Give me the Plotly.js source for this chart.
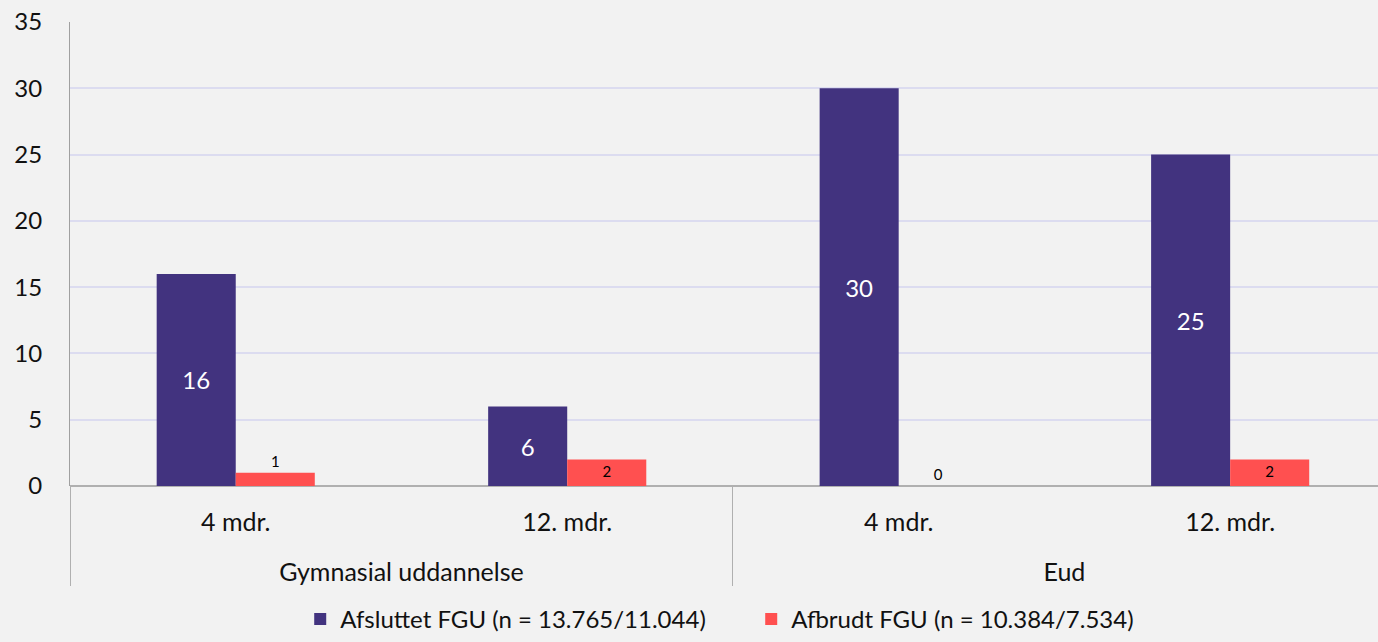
<!DOCTYPE html>
<html>
<head>
<meta charset="utf-8">
<script src="https://cdn.plot.ly/plotly-3.0.1.min.js"></script>
<style>html,body{margin:0;padding:0;background:#f2f2f2;}#chart{width:1378px;height:642px;}</style>
</head>
<body>
<div id="chart"></div>
<script>
const groups = ["Gymnasial uddannelse", "Gymnasial uddannelse", "Eud", "Eud"];
const periods = ["4 mdr.", "12. mdr.", "4 mdr.", "12. mdr."];
const afsluttet = [16, 6, 30, 25];
const afbrudt = [1, 2, 0, 2];
const seriesNames = ["Afsluttet FGU (n = 13.765/11.044)", "Afbrudt FGU (n = 10.384/7.534)"];

const font = "Lato, 'Noto Sans', sans-serif";

// display aliases: add an empty second line under each period label to space the two label rows
const aliases = {};
periods.forEach(p => { aliases[p] = p + '<br><span style="font-size:44px">\u00a0</span>'; });

const traces = [
  {
    type: 'bar', name: seriesNames[0], x: [groups, periods], y: afsluttet,
    marker: {color: '#42337f'},
    text: afsluttet.map(String), textposition: 'inside', insidetextanchor: 'middle',
    textfont: {color: '#ffffff', size: 24, family: font}, hoverinfo: 'y'
  },
  {
    type: 'bar', name: seriesNames[1], x: [groups, periods], y: afbrudt,
    marker: {color: '#ff5050'},
    text: afbrudt.map(String), textposition: ['outside', 'inside', 'outside', 'inside'],
    insidetextanchor: 'end', cliponaxis: false,
    textfont: {color: '#000000', size: 15, family: font}, hoverinfo: 'y'
  }
];

const layout = {
  width: 1378, height: 642,
  paper_bgcolor: '#f2f2f2', plot_bgcolor: '#f2f2f2',
  font: {family: font, size: 24, color: '#111111'},
  margin: {l: 70, r: 0, t: 22, b: 156},
  barmode: 'group', bargap: 0.523, bargroupgap: 0,
  showlegend: true,
  legend: {orientation: 'h', x: 0.176, xanchor: 'left', yref: 'container', y: 0, yanchor: 'bottom',
           entrywidth: 406, entrywidthmode: 'pixels',
           font: {size: 24, family: font, color: '#111111'}, itemwidth: 30, traceorder: 'normal'},
  xaxis: {
    type: 'multicategory', range: [-0.5, 3.446],
    showgrid: false, showline: false, ticks: '',
    showdividers: true, dividercolor: '#b0b0b0', dividerwidth: 1,
    ticklabelstandoff: 19,
    labelalias: aliases,
    tickfont: {size: 25, family: font, color: '#111111'}
  },
  yaxis: {
    range: [0, 35], dtick: 5, showgrid: true, gridcolor: '#dcdcf0', gridwidth: 2,
    zeroline: true, zerolinecolor: '#b0b0b0', zerolinewidth: 2,
    showline: true, linecolor: '#a0a0a0', linewidth: 1,
    ticks: '', ticklabelstandoff: 22,
    tickfont: {size: 24, family: font, color: '#111111'}
  }
};

Plotly.newPlot('chart', traces, layout, {displayModeBar: false, staticPlot: true});
</script>
</body>
</html>
